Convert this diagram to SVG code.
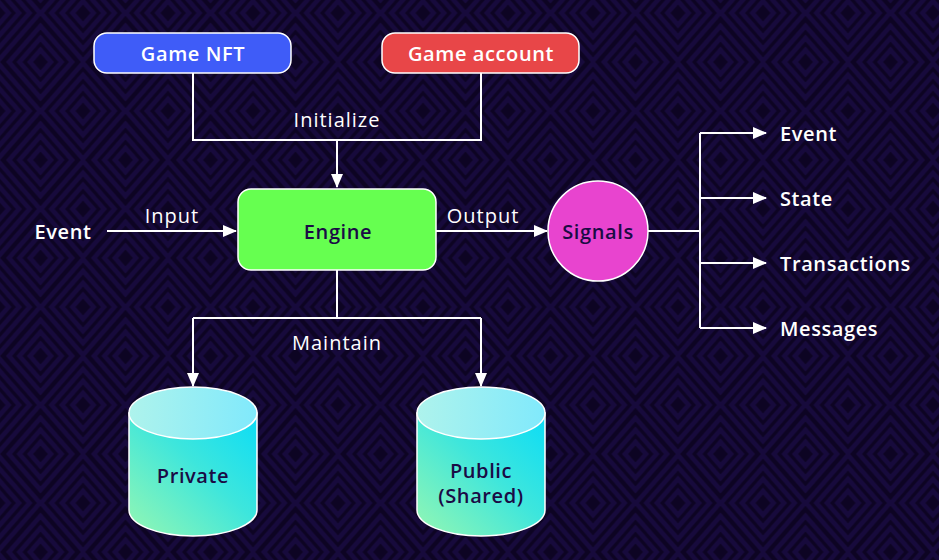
<svg xmlns="http://www.w3.org/2000/svg" width="939" height="560" viewBox="0 0 939 560">
<defs>
<pattern id="bg" patternUnits="userSpaceOnUse" width="85" height="98" x="40.5" y="62">
<rect width="85" height="98" fill="#0d0423"/>
<g fill="none" stroke="#170a3c" stroke-width="4.5">
<path d="M42.5,37 L53,49 L42.5,61 L32,49 Z"/>
<path d="M42.5,25 L63.5,49 L42.5,73 L21.5,49 Z"/>
<path d="M42.5,13 L74,49 L42.5,85 L11,49 Z"/>
<path d="M42.5,1 L84.5,49 L42.5,97 L0.5,49 Z"/>
<g id="corner">
<path d="M0,12 L10.5,0 L0,-12 L-10.5,0 Z"/>
<path d="M0,24 L21,0 L0,-24 L-21,0 Z"/>
<path d="M0,36 L31.5,0 L0,-36 L-31.5,0 Z"/>
</g>
<use href="#corner" x="85"/>
<use href="#corner" y="98"/>
<use href="#corner" x="85" y="98"/>
</g>
</pattern>
<marker id="ah" viewBox="0 0 14 12" refX="13" refY="6" markerWidth="14" markerHeight="12" markerUnits="userSpaceOnUse" orient="auto">
<path d="M0,0 L14,6 L0,12 Z" fill="#ffffff"/>
</marker>
<linearGradient id="body" x1="0" y1="1" x2="1" y2="0">
<stop offset="0" stop-color="#95f7b2"/>
<stop offset="0.55" stop-color="#3ee6dc"/>
<stop offset="1" stop-color="#0bdcf7"/>
</linearGradient>
<linearGradient id="top" x1="0" y1="0.5" x2="1" y2="0.5">
<stop offset="0" stop-color="#aef3ec"/>
<stop offset="1" stop-color="#80e9fc"/>
</linearGradient>
<style>
.lbl{font-family:"Open Sans","Noto Sans","Liberation Sans",sans-serif;font-size:20px;fill:#ffffff;text-anchor:middle;dominant-baseline:central}
.b{font-weight:600;letter-spacing:0.6px}
.r{font-weight:400;letter-spacing:1px}
.dk{fill:#1a0b45}
.lt{text-anchor:start}
.conn{fill:none;stroke:#ffffff;stroke-width:2}
.node{stroke:#ffffff;stroke-width:1.5}
</style>
</defs>
<rect width="939" height="560" fill="url(#bg)"/>

<g id="connectors">
<path class="conn" d="M193,73 V140 H481 V73"/>
<path class="conn" d="M337,140 V187" marker-end="url(#ah)"/>
<path class="conn" d="M107,231 H236" marker-end="url(#ah)"/>
<path class="conn" d="M436,231 H547" marker-end="url(#ah)"/>
<path class="conn" d="M648,231 H700"/>
<path class="conn" d="M700,133 V328"/>
<path class="conn" d="M700,133 H766" marker-end="url(#ah)"/>
<path class="conn" d="M700,198 H766" marker-end="url(#ah)"/>
<path class="conn" d="M700,263 H766" marker-end="url(#ah)"/>
<path class="conn" d="M700,328 H766" marker-end="url(#ah)"/>
<path class="conn" d="M337,270 V318"/>
<path class="conn" d="M193,318 H481"/>
<path class="conn" d="M193,318 V386" marker-end="url(#ah)"/>
<path class="conn" d="M481,318 V386" marker-end="url(#ah)"/>
<text class="lbl r" x="337" y="119">Initialize</text>
<text class="lbl r" x="172" y="215">Input</text>
<text class="lbl r" x="483" y="215">Output</text>
<text class="lbl r" x="337" y="342">Maintain</text>
</g>

<g id="game-nft">
<rect class="node" x="94" y="33" width="197" height="40" rx="13" fill="#3f5cf8"/>
<text class="lbl b" x="193" y="53">Game NFT</text>
</g>
<g id="game-account">
<rect class="node" x="382" y="33" width="197" height="40" rx="13" fill="#e84648"/>
<text class="lbl b" x="481" y="53">Game account</text>
</g>
<g id="event-in">
<text class="lbl b" x="63" y="231">Event</text>
</g>
<g id="engine">
<rect class="node" x="238" y="189" width="198" height="81" rx="13" fill="#66ff50"/>
<text class="lbl b dk" x="338" y="231">Engine</text>
</g>
<g id="signals">
<circle class="node" cx="598" cy="231" r="50" fill="#e844cf"/>
<text class="lbl b dk" x="598" y="231">Signals</text>
</g>
<g id="out-event"><text class="lbl b lt" x="780" y="133">Event</text></g>
<g id="out-state"><text class="lbl b lt" x="780" y="198">State</text></g>
<g id="out-transactions"><text class="lbl b lt" x="780" y="263">Transactions</text></g>
<g id="out-messages"><text class="lbl b lt" x="780" y="328">Messages</text></g>

<g id="private">
<path class="node" d="M129,413 V510 A64,26 0 0 0 257,510 V413 Z" fill="url(#body)"/>
<ellipse class="node" cx="193" cy="413" rx="64" ry="26" fill="url(#top)"/>
<text class="lbl b dk" x="193" y="475">Private</text>
</g>
<g id="public">
<path class="node" d="M417,413 V510 A64,26 0 0 0 545,510 V413 Z" fill="url(#body)"/>
<ellipse class="node" cx="481" cy="413" rx="64" ry="26" fill="url(#top)"/>
<text class="lbl b dk" x="481" y="470">Public</text>
<text class="lbl b dk" x="481" y="495">(Shared)</text>
</g>
</svg>
